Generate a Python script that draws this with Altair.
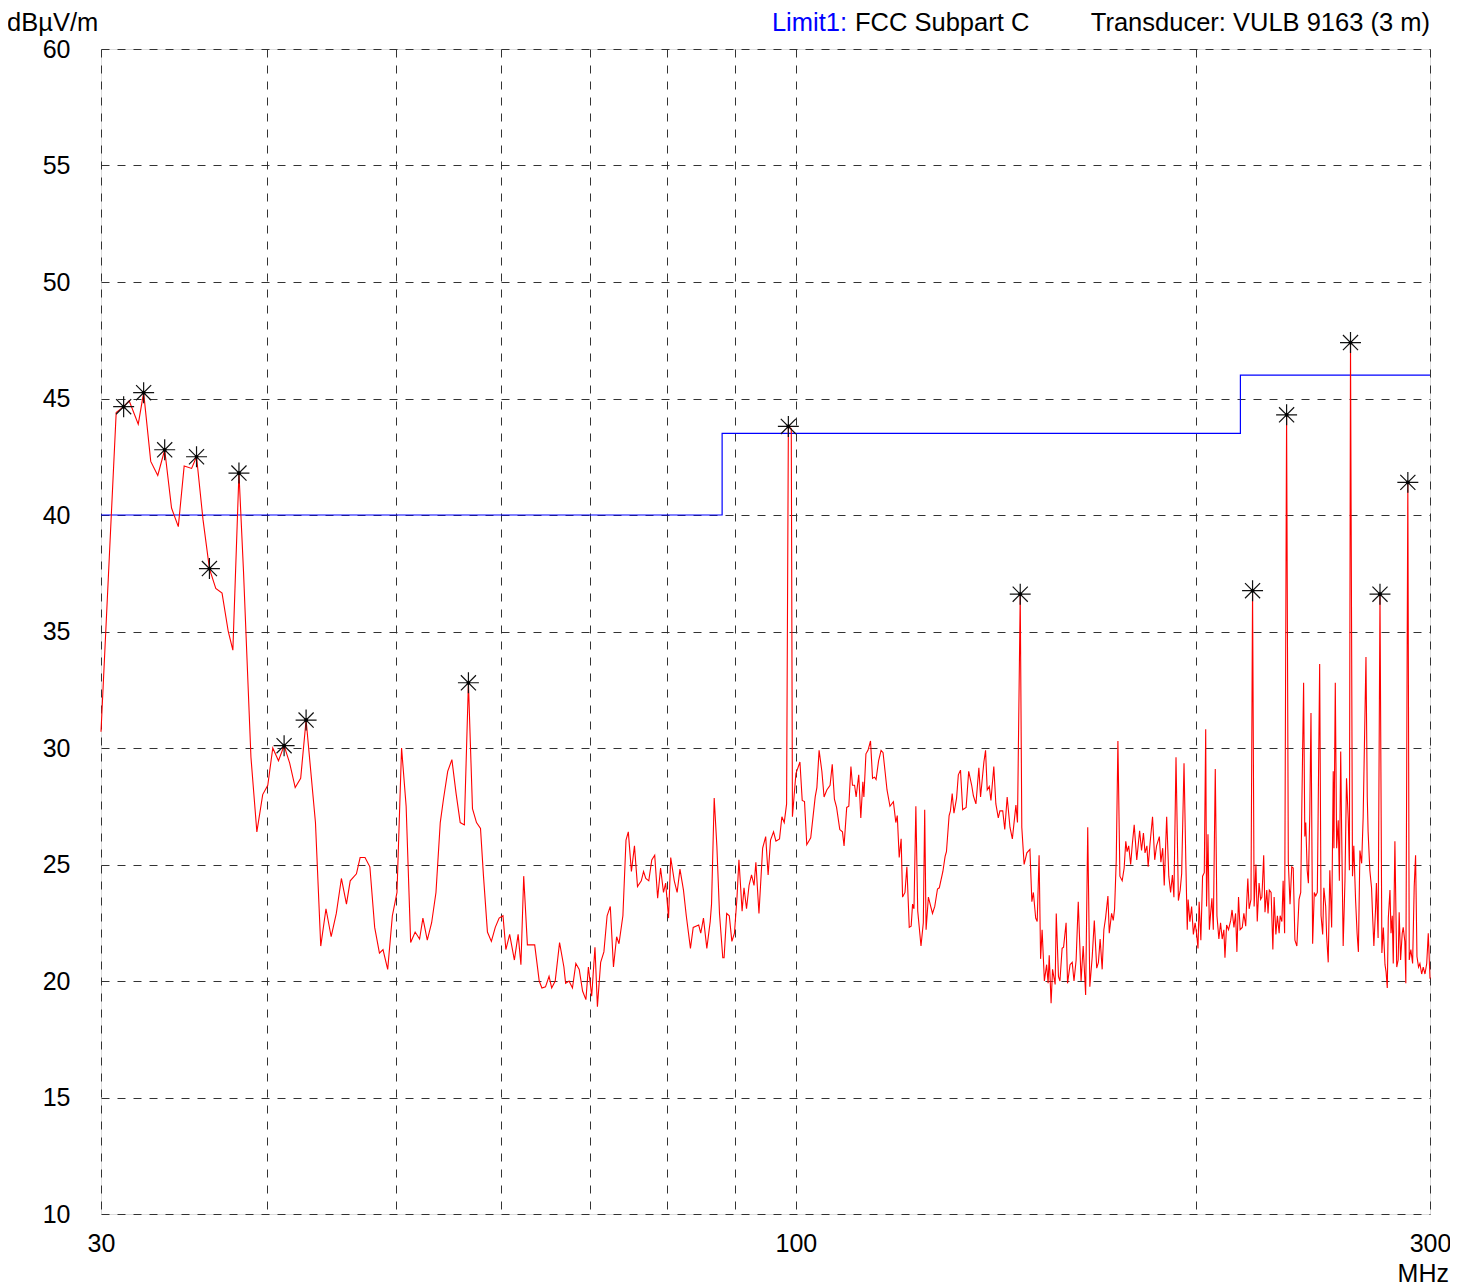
import altair as alt
import pandas as pd

# ---- measured trace (frequency in MHz, level in dBuV/m) ----
freq_mhz = [
    30.0, 30.8, 31.2, 31.5, 32.0, 32.3, 32.7, 33.1, 33.5, 33.9, 34.3, 34.65, 35.1, 35.4, 35.8, 36.2,
    36.6, 37.0, 37.4, 37.7, 38.1, 38.4, 38.9, 39.3, 39.7, 40.05, 40.4, 40.8, 41.2, 41.6, 42.0, 42.4,
    42.8, 43.5,
    43.9, 44.3, 44.7, 45.1, 45.5, 45.9, 46.2, 46.7, 47.0, 47.4, 47.8, 48.2, 48.6, 48.9, 49.3, 49.7,
    50.1, 50.5, 50.9, 51.3, 51.7, 52.1, 52.4, 52.8, 53.2, 53.6, 54.0, 54.3, 54.7, 55.1, 55.5, 55.9,
    56.3, 56.7, 57.1, 57.5, 57.9, 58.2, 58.6, 59.0, 59.4, 59.8, 60.2, 60.5, 60.9, 61.4, 61.8, 62.1,
    62.4, 62.8, 63.6, 64.1, 64.4, 64.8, 65.2, 65.5, 65.9, 66.4,
    66.9, 67.1, 67.5, 67.9, 68.3, 68.7, 69.1, 69.5, 69.8, 70.2, 70.6, 70.9, 71.3, 71.7, 72.1, 72.5,
    72.9, 73.3, 73.6, 74.1, 74.5, 74.8, 75.2, 75.6, 76.0, 76.5, 76.8, 77.1, 77.5, 77.9, 78.3, 78.7,
    79.1, 79.5, 79.8, 80.2, 80.5, 81.0, 81.4, 81.8, 82.3, 82.7, 83.3, 83.7, 84.5, 84.8, 85.2, 85.7,
    86.2, 86.4, 86.8, 87.2, 87.6, 88.1, 88.3, 88.7, 89.1, 89.5, 89.9, 90.3, 90.6, 91.1, 91.4, 91.8,
    92.2, 92.6, 93.0, 93.3, 93.8, 94.4, 94.9, 95.3, 95.7, 96.2, 96.6, 97.2, 97.6, 98.0, 98.4, 98.7,
    99.2, 99.4, 100.0, 100.7, 101.1, 101.5, 101.9, 102.6, 103.4, 103.7, 104.1, 104.6, 105.0, 105.5,
    106.1, 106.5, 106.9, 107.3, 107.9, 108.4, 108.7, 109.2, 109.6, 110.0, 110.3, 110.7, 111.0, 111.5,
    111.9, 112.3, 112.5, 112.9, 113.3, 113.8, 114.2, 114.6, 114.9, 115.4, 115.9, 116.3, 116.7, 117.1,
    117.7, 118.4, 118.9, 119.2, 119.6, 120.0, 120.3, 120.8, 121.2, 121.7, 122.1, 122.4, 122.7, 123.1,
    123.5, 124.2, 124.7, 125.0, 125.3, 125.8, 126.7, 127.2, 127.8, 128.2, 129.0, 129.5, 129.8, 130.4,
    130.7, 131.1, 131.5, 132.1, 132.5, 133.0, 133.5, 134.3, 134.9, 135.6, 136.0, 136.6, 137.3, 137.7,
    138.5, 138.9, 139.3, 139.8, 140.2, 140.9, 141.4, 142.0, 142.4, 143.1, 143.6, 144.2, 144.9, 145.5,
    146.4, 146.8, 147.5, 147.9, 148.5, 149.2, 150.0, 150.5, 150.9, 151.5, 151.9, 152.4, 152.8, 153.2,
    153.8, 154.4, 154.8, 155.1, 155.6, 156.0, 156.7, 157.0, 157.6, 158.0, 158.6, 159.0, 159.7, 160.1,
    160.8, 161.4, 161.9, 162.5, 163.1, 163.9, 164.5, 165.2, 165.8, 166.4, 167.1, 167.7, 168.4, 168.9,
    169.4, 170.0, 170.5, 171.0, 171.7, 172.1, 172.8, 173.3, 173.7, 174.2, 174.7, 175.3, 176.0, 176.6,
    177.1, 177.5, 178.0, 178.6, 179.1, 179.7, 180.5, 181.0, 181.4, 182.0, 182.6, 183.1, 183.7, 184.1,
    184.7, 185.5, 186.2, 186.8, 187.7, 188.2, 188.8, 189.3, 190.1, 190.8, 191.4, 192.0, 192.5, 193.2,
    194.0, 194.6, 195.1, 195.9, 196.5, 197.0, 197.3, 197.9, 198.5, 199.1, 199.7, 200.2, 200.7, 201.1,
    201.7, 202.3, 202.9, 203.4, 203.7, 204.2, 204.7, 205.1, 205.6, 206.1, 206.8, 207.4, 208.1, 208.7,
    209.3, 209.9, 210.3, 210.9, 211.6, 212.4, 212.9, 213.6, 214.2, 214.7, 215.3, 215.9, 216.7, 217.3,
    218.0, 218.3, 218.8, 219.3, 220.0, 220.6, 221.2, 221.9, 222.4, 223.1, 223.7, 224.2, 224.9, 225.4,
    226.1, 226.6, 227.1, 227.8, 228.5, 229.0, 229.7, 230.3, 231.0, 231.4, 232.1, 232.6, 233.2, 234.0,
    234.7, 235.4, 236.1, 236.7, 237.4, 238.2, 239.1, 239.8, 240.2, 241.0, 241.5, 241.9, 242.5, 243.0,
    243.6, 244.1, 244.8, 245.5, 246.1, 246.8, 247.8, 248.4, 249.1, 249.6, 250.4, 250.8, 251.5, 252.2,
    253.0, 253.7, 254.0, 254.6, 255.2, 255.9, 256.4, 257.0, 257.4, 258.1, 258.9, 259.6, 260.4, 260.9,
    261.4, 262.3, 262.9, 263.7, 264.4, 265.0, 265.7, 266.5, 267.2, 268.5, 269.1, 269.5, 270.3, 271.1,
    271.6, 272.2, 273.0, 273.4, 274.2, 275.1, 276.0, 276.7, 277.5, 278.0, 278.6, 279.1, 279.9, 280.4,
    281.0, 281.5, 282.3, 283.2, 283.9, 284.4, 285.1, 285.9, 286.4, 287.2, 287.7, 288.7, 289.4, 290.2,
    291.1, 291.9, 292.6, 293.3, 294.1, 294.8, 295.7, 296.5, 297.4, 298.3, 299.1, 300.0,
]
level_dbuv = [
    30.7, 44.4, 44.65, 44.9, 43.9, 45.25, 42.3, 41.7, 42.8, 40.3, 39.5, 42.1, 42.0, 42.5, 39.8, 37.7,
    36.85, 36.65, 35.0, 34.2, 41.8, 37.6, 29.6, 26.4, 28.0, 28.4, 30.0, 29.45, 30.1, 29.35, 28.3, 28.7,
    31.2, 26.8,
    21.5, 23.1, 21.9, 22.9, 24.4, 23.3, 24.3, 24.6, 25.3, 25.3, 24.9, 22.3, 21.2, 21.35, 20.5, 22.8,
    23.8, 30.0, 27.5, 21.65, 22.1, 21.8, 22.7, 21.75, 22.5, 23.8, 26.8, 27.8, 29.0, 29.5, 28.05, 26.8,
    26.7, 32.8, 27.4, 26.8, 26.55, 24.5, 22.1, 21.7, 22.3, 22.7, 22.8, 21.35, 22.0, 20.9, 22.0, 20.7,
    24.5, 21.55, 21.55, 20.0, 19.7, 19.75, 20.2, 19.7, 20.0, 21.65,
    20.6, 19.9, 20.0, 19.7, 20.75, 20.5, 19.57, 19.2, 20.6, 19.35, 21.45, 18.9, 20.8, 21.25, 22.8, 23.2,
    20.6, 21.9, 21.6, 22.8, 26.05, 26.4, 24.7, 25.8, 24.05, 24.3, 24.7, 24.4, 24.3, 25.2, 25.4, 23.55,
    24.85, 23.8, 24.2, 22.7, 25.3, 24.3, 23.8, 24.8, 23.9, 22.8, 21.4, 22.3, 22.4, 22.05, 22.7, 21.4,
    22.55, 23.3, 27.85, 25.8, 22.9, 21.0, 21.0, 22.9, 22.8, 21.7, 22.05, 23.6, 25.2, 23.0, 24.0, 23.1,
    24.1, 24.55, 24.1, 25.1, 22.9, 25.7, 26.2, 24.55, 26.05, 26.4, 26.0, 26.1, 27.05, 26.8, 27.6, 43.8,
    43.7, 27.05, 28.9, 29.4, 27.75, 27.7, 25.85, 26.15, 27.9, 28.3, 29.9, 29.0, 27.9, 28.2,
    28.4, 29.3, 27.8, 27.45, 26.5, 26.4, 25.8, 27.45, 27.5, 29.2, 28.4, 28.4, 27.9, 28.85,
    27.0, 28.55, 27.9, 29.75, 29.9, 30.3, 28.7, 28.75, 28.65, 29.45, 29.9, 29.8, 29.0, 28.2,
    27.5, 27.7, 26.8, 27.1, 25.3, 26.1, 23.6, 23.8, 24.9, 22.3, 22.35, 23.3, 23.1, 27.5,
    23.0, 21.5, 22.5, 27.35, 22.2, 23.6, 22.9, 23.2, 23.95, 24.0, 24.7, 25.35, 25.55, 27.1,
    27.3, 28.05, 27.2, 27.85, 28.85, 29.05, 27.35, 27.45, 29.0, 28.4, 27.95, 27.6, 29.15, 27.9,
    29.4, 29.9, 28.2, 28.35, 27.75, 29.2, 27.6, 27.0, 27.3, 27.3, 26.5, 27.9, 26.6, 26.1,
    27.55, 26.8, 36.6, 26.6, 25.0, 25.5, 25.65, 23.4, 23.8, 22.7, 22.55, 25.4, 20.95, 22.2,
    20.0, 20.7, 19.9, 21.1, 19.05, 20.5, 19.85, 22.9, 20.2, 20.0, 21.4, 21.45, 22.5, 19.9,
    20.7, 20.8, 20.0, 20.9, 23.4, 20.0, 21.5, 19.4, 26.6, 19.75, 21.05, 22.6, 20.55, 20.8,
    21.8, 20.5, 22.2, 22.7, 23.65, 22.05, 22.9, 22.6, 23.1, 25.2, 30.3, 24.5, 24.3, 24.85,
    26.0, 25.55, 25.8, 25.0, 25.85, 26.7, 25.2, 25.9, 26.45, 25.6, 26.35, 25.5, 25.8, 24.9,
    25.9, 27.05, 25.2, 25.8, 26.2, 25.1, 25.7, 24.1, 27.05, 24.5, 23.8, 24.55, 23.6, 29.6,
    23.45, 23.9, 24.6, 29.35, 25.2, 22.2, 23.5, 22.55, 23.2, 22.0, 22.5, 22.05, 21.4, 23.4,
    21.75, 24.5, 24.65, 30.8, 23.2, 26.3, 22.2, 22.85, 23.55, 22.2, 29.1, 22.8, 21.8, 22.5,
    21.8, 22.2, 21.0, 22.4, 22.2, 22.6, 23.05, 22.3, 22.9, 21.25, 23.6, 22.2, 22.3, 22.9,
    22.35, 23.2, 24.4, 23.1, 23.5, 36.75, 23.2, 25.0, 22.55, 24.2, 23.5, 23.6, 25.4, 22.95,
    23.9, 22.9, 23.9, 23.8, 21.35, 23.6, 22.0, 22.8, 22.05, 22.8, 22.55, 24.3, 22.05, 44.3,
    25.1, 23.3, 24.9, 24.85, 21.75, 21.5, 23.5, 23.8, 27.05, 32.8, 26.2, 26.8, 24.75, 24.2,
    27.2, 31.5, 21.6, 23.8, 23.65, 23.8, 33.6, 22.8, 22.0, 24.0, 23.2, 21.95, 20.8, 24.75,
    22.3, 29.0, 25.7, 32.8, 25.7, 26.9, 24.3, 29.85, 26.55, 21.5, 24.3, 28.7, 26.9, 24.75,
    47.4, 24.5, 25.8, 23.5, 22.05, 21.25, 25.6, 25.05, 27.05, 33.9, 27.9, 26.4, 24.75, 24.0,
    22.8, 21.5, 23.1, 24.2, 21.85, 36.6, 21.2, 22.3, 20.7, 20.4, 19.7, 22.7, 23.9, 22.05,
    22.8, 20.75, 26.0, 20.6, 20.9, 22.95, 20.9, 22.05, 22.3, 21.7, 19.9, 41.4, 20.9, 21.35,
    20.75, 24.05, 25.4, 21.05, 20.6, 20.75, 20.3, 20.6, 20.3, 20.75, 22.05, 20.1,
]

# ---- peak markers ----
peak_freq = [31.2, 32.3, 33.5, 35.4, 36.2, 38.1, 41.2, 42.8, 56.7, 98.7, 147.5, 220.6, 234.0, 261.4, 275.1, 288.7]
peak_level = [44.65, 45.25, 42.8, 42.5, 37.7, 41.8, 30.1, 31.2, 32.8, 43.8, 36.6, 36.75, 44.3, 47.4, 36.6, 41.4]

# ---- limit line (FCC Subpart C) ----
limit_freq = [30, 88, 216, 300]
limit_level = [40, 43.5, 46, 46]

# ---- axis ticks ----
x_grid_values = [30, 40, 50, 60, 70, 80, 90, 100, 200, 300]
x_label_values = [30, 100, 300]
y_values = [10, 15, 20, 25, 30, 35, 40, 45, 50, 55, 60]

FONT = "Liberation Sans"

trace_df = pd.DataFrame({"f": freq_mhz, "v": level_dbuv})
peak_df = pd.DataFrame({"f": peak_freq, "v": peak_level})
limit_df = pd.DataFrame({"f": limit_freq, "v": limit_level})

label_test = " || ".join(f"datum.value == {v}" for v in x_label_values)

x_enc = alt.X(
    "f:Q",
    scale=alt.Scale(type="log", domain=[30, 300], nice=False, zero=False),
    axis=alt.Axis(
        values=x_grid_values,
        labelExpr=f"({label_test}) ? format(datum.value, 'd') : ''",
        title=None,
        ticks=False,
        domain=False,
        labelPadding=17,
        labelFontSize=25,
        labelFont=FONT,
        labelColor="black",
        labelFlush=False,
        labelOverlap=False,
        grid=True,
        gridColor="#333333",
        gridDash=[8, 8],
        gridWidth=1,
    ),
)
y_enc = alt.Y(
    "v:Q",
    scale=alt.Scale(domain=[10, 60], nice=False, zero=False),
    axis=alt.Axis(
        values=y_values,
        title=None,
        ticks=False,
        domain=False,
        labelPadding=31,
        labelFontSize=25,
        labelFont=FONT,
        labelColor="black",
        labelFlush=False,
        labelOverlap=False,
        grid=True,
        gridColor="#333333",
        gridDash=[8, 8],
        gridWidth=1,
    ),
)

limit = alt.Chart(limit_df).mark_line(
    color="#0000ff", strokeWidth=1.2, interpolate="step-after"
).encode(x=x_enc, y=y_enc)

trace = alt.Chart(trace_df).mark_line(color="#ff0000", strokeWidth=1.1).encode(
    x=x_enc, y=y_enc, order=alt.Order("f:Q")
)

star_path = "M0,-1L0,1M-1,0L1,0M-0.72,-0.72L0.72,0.72M-0.72,0.72L0.72,-0.72"
stars = alt.Chart(peak_df).mark_point(
    shape=star_path, size=440, filled=False, stroke="#111111", strokeWidth=1.2, opacity=1
).encode(x=x_enc, y=y_enc)
dots = alt.Chart(peak_df).mark_point(
    shape="circle", size=14, filled=True, color="#000000", opacity=1
).encode(x=x_enc, y=y_enc)


def label(text, x, y, align, color="black", size=25):
    return alt.Chart(pd.DataFrame({"t": [text]})).mark_text(
        align=align, baseline="alphabetic", font=FONT, fontSize=size, color=color
    ).encode(x=alt.value(x), y=alt.value(y), text="t:N")


texts = [
    label("dBµV/m", -94, -18, "left", size=25.5),
    label("Transducer: VULB 9163 (3 m)", 1329, -18, "right", size=25.5),
    label("FCC Subpart C", 754, -18, "left", size=25.5),
    label("Limit1:", 746, -18, "right", color="#0000ff", size=25.5),
    label("MHz", 1348, 1233, "right", size=25),
]

chart = alt.layer(limit, trace, stars, dots, *texts).properties(
    width=1329,
    height=1165,
    autosize=alt.AutoSizeParams(type="none"),
    padding={"left": 93, "top": 41, "right": 20, "bottom": 72},
).configure_view(
    stroke="#444444", strokeWidth=1.2
).configure(background="white")

chart.save("out.html", embed_options={"renderer": "svg", "actions": False})
